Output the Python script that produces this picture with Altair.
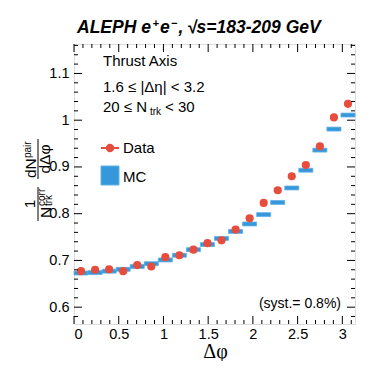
import altair as alt
import pandas as pd

# ---- data ----
bin_lo = [0.0, 0.1571, 0.3142, 0.4712, 0.6283, 0.7854, 0.9425, 1.0996, 1.2566, 1.4137,
          1.5708, 1.7279, 1.8850, 2.0420, 2.1991, 2.3562, 2.5133, 2.6704, 2.8274, 2.9845]
bin_hi = [0.1571, 0.3142, 0.4712, 0.6283, 0.7854, 0.9425, 1.0996, 1.2566, 1.4137, 1.5708,
          1.7279, 1.8850, 2.0420, 2.1991, 2.3562, 2.5133, 2.6704, 2.8274, 2.9845, 3.1416]
data_vals = [0.677, 0.680, 0.681, 0.677, 0.690, 0.687, 0.707, 0.711, 0.723, 0.737,
             0.743, 0.766, 0.790, 0.823, 0.850, 0.880, 0.904, 0.944, 1.006, 1.035]
mc_vals = [0.673, 0.674, 0.677, 0.681, 0.687, 0.693, 0.701, 0.711, 0.723, 0.734,
           0.747, 0.762, 0.778, 0.798, 0.824, 0.855, 0.893, 0.936, 0.981, 1.011]

x_major = [0, 0.5, 1, 1.5, 2, 2.5, 3]
x_minor = [0.1, 0.2, 0.3, 0.4, 0.6, 0.7, 0.8, 0.9, 1.1, 1.2, 1.3, 1.4, 1.6, 1.7, 1.8, 1.9,
           2.1, 2.2, 2.3, 2.4, 2.6, 2.7, 2.8, 2.9, 3.1]
y_major = [0.6, 0.7, 0.8, 0.9, 1.0, 1.1]
y_minor = [0.58, 0.62, 0.64, 0.66, 0.68, 0.72, 0.74, 0.76, 0.78, 0.82, 0.84, 0.86, 0.88,
           0.92, 0.94, 0.96, 0.98, 1.02, 1.04, 1.06, 1.08, 1.12, 1.14, 1.16]

RED = "#e74c3c"
BLUE = "#3498db"
FONT = "Liberation Sans"
W, H = 281, 280
HALF = 0.0042

xs = alt.Scale(domain=[0, 3.1416], nice=False, zero=False)
ys = alt.Scale(domain=[0.564, 1.163], nice=False, zero=False)

df = pd.DataFrame({
    "lo": bin_lo, "hi": bin_hi,
    "c": [(a + b) / 2 for a, b in zip(bin_lo, bin_hi)],
    "data": data_vals, "mc": mc_vals,
})
df["mc_lo"] = df["mc"] - HALF
df["mc_hi"] = df["mc"] + HALF

xaxis = alt.Axis(values=x_major, format="~g", ticks=False, domain=False, grid=False,
                 labelFont=FONT, labelFontSize=14.5, labelColor="black", labelPadding=3,
                 title=None)
yaxis = alt.Axis(values=y_major, format="~g", ticks=False, domain=False, grid=False,
                 labelFont=FONT, labelFontSize=14.5, labelColor="black", labelPadding=5,
                 title=None)

base = alt.Chart(df)

mc_layer = base.mark_rect(color=BLUE, stroke="#5fb0e6", strokeWidth=0.8).encode(
    x=alt.X("lo:Q", scale=xs, axis=xaxis), x2="hi:Q",
    y=alt.Y("mc_lo:Q", scale=ys, axis=yaxis), y2="mc_hi:Q")

data_layer = base.mark_point(filled=True, shape="circle", size=66, color=RED, opacity=1).encode(
    x=alt.X("c:Q", scale=xs), y=alt.Y("data:Q", scale=ys))

def ticks_x(vals, length):
    d = alt.Chart(pd.DataFrame({"t": vals}))
    bot = d.mark_rule(color="black", strokeWidth=1).encode(
        x=alt.X("t:Q", scale=xs), y=alt.value(H), y2=alt.value(H - length))
    top = d.mark_rule(color="black", strokeWidth=1).encode(
        x=alt.X("t:Q", scale=xs), y=alt.value(0), y2=alt.value(length))
    return [bot, top]

def ticks_y(vals, length):
    d = alt.Chart(pd.DataFrame({"t": vals}))
    left = d.mark_rule(color="black", strokeWidth=1).encode(
        y=alt.Y("t:Q", scale=ys), x=alt.value(0), x2=alt.value(length))
    right = d.mark_rule(color="black", strokeWidth=1).encode(
        y=alt.Y("t:Q", scale=ys), x=alt.value(W), x2=alt.value(W - length))
    return [left, right]

tick_layers = ticks_x(x_major, 8) + ticks_x(x_minor, 4) + ticks_y(y_major, 8) + ticks_y(y_minor, 4)

one = alt.Chart(pd.DataFrame({"a": [0]}))

def txt(s, x, y, size=14, align="left", angle=0, weight="normal", style="normal",
        baseline="alphabetic", font=FONT):
    kw = dict(text=s, font=font, fontSize=size, align=align, baseline=baseline,
              color="black", fontWeight=weight, fontStyle=style)
    if angle:
        kw["angle"] = angle
    return one.mark_text(**kw).encode(x=alt.value(x), y=alt.value(y))

def title_txt(s, x, y, size=17.5):
    return txt(s, x, y, size=size, weight="bold", style="italic")

texts = [
    title_txt("ALEPH e", 3, -11),
    title_txt("+", 78.5, -17, 11),
    title_txt("e", 86, -11),
    title_txt("\u2212", 97, -17, 11),
    title_txt(",", 104.5, -11),
    title_txt("\u221as=183-209 GeV", 113, -11),
    txt("Thrust Axis", 29, 22, 15),
    txt("1.6 \u2264 |\u0394\u03b7| < 3.2", 29, 48, 15),
    txt("20 \u2264 N", 29, 68, 15),
    txt("trk", 76, 71, 10),
    txt("< 30", 91, 68, 15),
    txt("Data", 49, 109, 15),
    txt("MC", 49, 138, 15),
    txt("(syst.= 0.8%)", 267, 264, 14, align="right"),
    txt("\u0394\u03c6", 141.5, 314, 20, align="center", font="Liberation Serif"),
    # y-axis title pieces (rotated)
    txt("1", -39, 160, 15.5, align="center", angle=270),
    txt("N", -23.5, 174, 15.5, align="left", angle=270),
    txt("corr", -29.5, 162, 10, align="left", angle=270),
    txt("trk", -22, 162, 10, align="left", angle=270),
    txt("dN", -38.5, 134, 15.5, align="left", angle=270),
    txt("pair", -43.5, 114, 10, align="left", angle=270),
    txt("d\u0394\u03c6", -24.5, 115, 15.5, align="center", angle=270),
]

fracbars = [
    one.mark_rule(color="black", strokeWidth=1).encode(
        x=alt.value(-36), y=alt.value(177), y2=alt.value(143)),
    one.mark_rule(color="black", strokeWidth=1).encode(
        x=alt.value(-36), y=alt.value(135), y2=alt.value(95)),
]

legend = [
    one.mark_rule(color=RED, strokeWidth=2).encode(
        x=alt.value(27), x2=alt.value(45), y=alt.value(104)),
    one.mark_point(filled=True, shape="circle", size=70, color=RED, opacity=1).encode(
        x=alt.value(36), y=alt.value(104)),
    one.mark_rect(color=BLUE, stroke="#5fb0e6", strokeWidth=1).encode(
        x=alt.value(27), x2=alt.value(45), y=alt.value(122), y2=alt.value(141)),
]

chart = alt.layer(mc_layer, data_layer, *tick_layers, *legend, *fracbars, *texts).properties(
    width=W, height=H,
    autosize=alt.AutoSizeParams(type="none"),
    padding={"left": 66, "top": 36, "right": 11, "bottom": 37},
).configure_view(stroke="black", strokeWidth=1).configure(background="white")

chart.save("out.html", embed_options={"renderer": "svg", "actions": False})
